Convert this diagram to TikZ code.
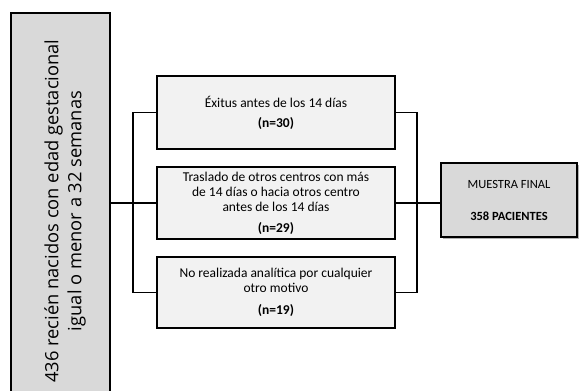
\documentclass[tikz,border=0pt]{standalone}
\usepackage{fontspec}
\setmainfont{Carlito}
\newfontfamily\leftfont{Open Sans}
\usetikzlibrary{shadows}
\definecolor{boxgray}{HTML}{D9D9D9}
\definecolor{lightbox}{HTML}{F2F2F2}
\tikzset{
  conn/.style={line width=1.6pt},
  midbox/.style={draw, line width=1.8pt, fill=lightbox, minimum width=238pt, align=center, font=\fontsize{13.5}{15}\selectfont, inner sep=0pt},
}
\begin{document}
\begin{tikzpicture}[x=1pt,y=1pt]
\useasboundingbox (0,0) rectangle (582,-391);
\fill[white] (0,0) rectangle (582,-391);
% left box
\node[draw, line width=2pt, fill=boxgray, minimum width=99pt, minimum height=392pt, inner sep=0pt, anchor=north west] (L) at (10,-12) {};
\node[rotate=90, align=center, font=\leftfont\fontsize{18.3}{23}\selectfont] (Lt) at (65,-211) {436 recién nacidos con edad gestacional\\igual o menor a 32 semanas};
% middle boxes
\node[midbox, minimum height=73pt] (b1) at (276,-112.5) {Éxitus antes de los 14 días\\[5pt]\textbf{(n=30)}};
\node[midbox, minimum height=72pt] (b2) at (276,-203) {Traslado de otros centros con más\\de 14 días o hacia otros centro\\antes de los 14 días\\[6pt]\textbf{(n=29)}};
\node[midbox, minimum height=71pt] (b3) at (276,-292.5) {No realizada analítica por cualquier\\otro motivo\\[7pt]\textbf{(n=19)}};
% final box
\node[draw, line width=1.8pt, fill=boxgray, minimum width=136pt, minimum height=74pt, inner sep=0pt, align=center, font=\fontsize{12.5}{15}\selectfont, drop shadow={shadow xshift=1.5pt, shadow yshift=-1.5pt, opacity=0.6}] (M) at (509,-200) {MUESTRA FINAL\\[17pt]\textbf{358 PACIENTES}};
% connectors
\draw[conn] (L.east |- b2.west) -- (b2.west);
\draw[conn] (b1.west) -- ++(-23,0) |- (b3.west);
\draw[conn] (b1.east) -- ++(21,0) |- (b3.east);
\draw[conn] (b2.east) -- (b2.east -| M.west);
\end{tikzpicture}
\end{document}
